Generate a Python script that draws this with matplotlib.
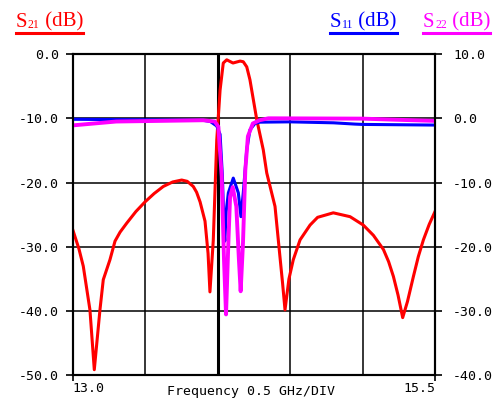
import matplotlib
matplotlib.use("Agg")
import matplotlib.pyplot as plt
from matplotlib.lines import Line2D
from matplotlib.transforms import offset_copy

# S21 (left axis, dB)
s21_freq = [13.000, 13.043, 13.073, 13.119, 13.149, 13.188, 13.211, 13.257, 13.292,
            13.327, 13.373, 13.436, 13.499, 13.562, 13.625, 13.690, 13.752, 13.790,
            13.832, 13.855, 13.879, 13.913, 13.934, 13.947, 13.970, 13.994, 14.017,
            14.039, 14.063, 14.106, 14.155, 14.177, 14.201, 14.223, 14.270, 14.315,
            14.339, 14.396, 14.430, 14.448, 14.465, 14.492, 14.522, 14.569, 14.638,
            14.690, 14.798, 14.914, 15.005, 15.075, 15.144, 15.180, 15.213, 15.245,
            15.277, 15.310, 15.351, 15.385, 15.420, 15.460, 15.500]
s21_db = [-27.3, -30.3, -33.0, -39.8, -49.1, -39.8, -35.1, -32.0, -29.1,
          -27.7, -26.3, -24.5, -23.0, -21.7, -20.6, -19.9, -19.6, -19.8,
          -20.6, -21.5, -23.0, -26.0, -31.0, -37.0, -29.0, -13.4, -5.6,
          -1.4, -0.9, -1.4, -1.1, -1.2, -2.0, -4.0, -10.2, -14.9,
          -18.5, -23.7, -31.5, -35.6, -39.8, -35.0, -32.0, -28.9, -26.6,
          -25.4, -24.7, -25.3, -26.6, -28.2, -30.4, -32.3, -34.6, -37.5,
          -41.0, -38.5, -34.6, -31.5, -28.9, -26.5, -24.5]

# S11 (right axis, dB)
s11_freq = [13.000, 13.300, 13.600, 13.900, 13.950, 13.994, 14.017, 14.033, 14.045,
            14.050, 14.059, 14.074, 14.108, 14.143, 14.161, 14.177, 14.201, 14.223,
            14.258, 14.292, 14.500, 14.800, 14.948, 15.000, 15.250, 15.500]
s11_db = [-0.15, -0.2, -0.25, -0.3, -0.5, -1.2, -2.5, -9.0, -17.8,
          -19.1, -14.5, -11.6, -9.3, -11.6, -15.3, -11.6, -4.9, -1.8,
          -0.8, -0.6, -0.55, -0.7, -0.9, -0.95, -1.0, -1.05]

# S22 (right axis, dB)
s22_freq = [13.000, 13.100, 13.300, 13.600, 13.900, 13.980, 14.005, 14.028, 14.044,
            14.058, 14.074, 14.086, 14.104, 14.129, 14.147, 14.159, 14.175, 14.191,
            14.209, 14.243, 14.289, 14.350, 15.000, 15.200, 15.500]
s22_db = [-1.1, -0.9, -0.5, -0.4, -0.3, -0.5, -1.3, -9.0, -22.0,
          -30.5, -19.4, -12.2, -10.7, -13.7, -22.0, -26.9, -19.4, -8.1,
          -2.8, -0.8, -0.3, 0.0, -0.05, -0.2, -0.4]

x_grid = [13.5, 14.0, 14.5, 15.0]
left_ticks = [0, -10, -20, -30, -40, -50]
right_ticks = [10, 0, -10, -20, -30, -40]

tick_font = dict(family="DejaVu Sans Mono", size=9.5)

fig = plt.figure(figsize=(5, 4.01), dpi=100)
ax = fig.add_axes([0.1454, 0.0636, 0.7246, 0.8017])
ax.set_xlim(13.0, 15.5)
ax.set_ylim(-50, 0)
ax.plot(s21_freq, s21_db, color="#ff0000", lw=2.2, zorder=3)

ax.set_xticks([13.0, 15.5])
ax.set_xticklabels(["13.0", "15.5"], fontdict=tick_font)
ax.get_xticklabels()[0].set_ha("left")
ax.get_xticklabels()[1].set_ha("right")
ax.set_xticks(x_grid, minor=True)
ax.tick_params(axis="x", which="major", length=4, width=1.2, pad=1)
ax.tick_params(axis="x", which="minor", length=0)
ax.set_yticks(left_ticks)
ax.set_yticklabels([f"{v:.1f}" for v in left_ticks], fontdict=tick_font)
ax.tick_params(axis="y", length=5, width=1.2, pad=5)
ax.grid(True, which="both", color="black", lw=1.1)
ax.axvline(14.0, color="black", lw=2.2, zorder=1)
for s in ax.spines.values():
    s.set_linewidth(1.5)

ax2 = ax.twinx()
ax2.set_ylim(-40, 10)
ax2.plot(s11_freq, s11_db, color="#0000ff", lw=2.2)
ax2.plot(s22_freq, s22_db, color="#ff00ff", lw=2.8)
ax2.set_yticks(right_ticks)
ax2.set_yticklabels([f"{v:.1f}" for v in right_ticks], fontdict=tick_font)
ax2.tick_params(axis="y", length=5, width=1.2, pad=8)
for s in ax2.spines.values():
    s.set_linewidth(1.5)

ax.set_xlabel("Frequency 0.5 GHz/DIV", fontdict=tick_font, va="baseline")
ax.xaxis.set_label_coords(0.492, -0.062)

# header labels: S, small subscript, " (dB)", then an underline
heads = [(0.032, "21", "#ff0000"),
         (0.660, "11", "#0000ff"),
         (0.846, "22", "#ff00ff")]
base_y = 0.933
fig.canvas.draw()
renderer = fig.canvas.get_renderer()
H = fig.bbox.height
W = fig.bbox.width
for x, sub, c in heads:
    t1 = fig.text(x, base_y, "S", color=c, family="Liberation Serif",
                  fontsize=15, va="baseline", ha="left")
    bb1 = t1.get_window_extent(renderer)
    t2 = fig.text(bb1.x1 / W + 0.001, base_y - 0.004, sub, color=c,
                  family="Liberation Serif", fontsize=8.5, va="baseline", ha="left")
    bb2 = t2.get_window_extent(renderer)
    t3 = fig.text(bb2.x1 / W, base_y, " (dB)", color=c, family="Liberation Serif",
                  fontsize=15, va="baseline", ha="left")
    bb3 = t3.get_window_extent(renderer)
    y = (H - 33) / H
    fig.add_artist(Line2D([bb1.x0 / W, bb3.x1 / W], [y, y], color=c, lw=2.2,
                          transform=fig.transFigure))

fig.savefig("out.png", dpi=100)
